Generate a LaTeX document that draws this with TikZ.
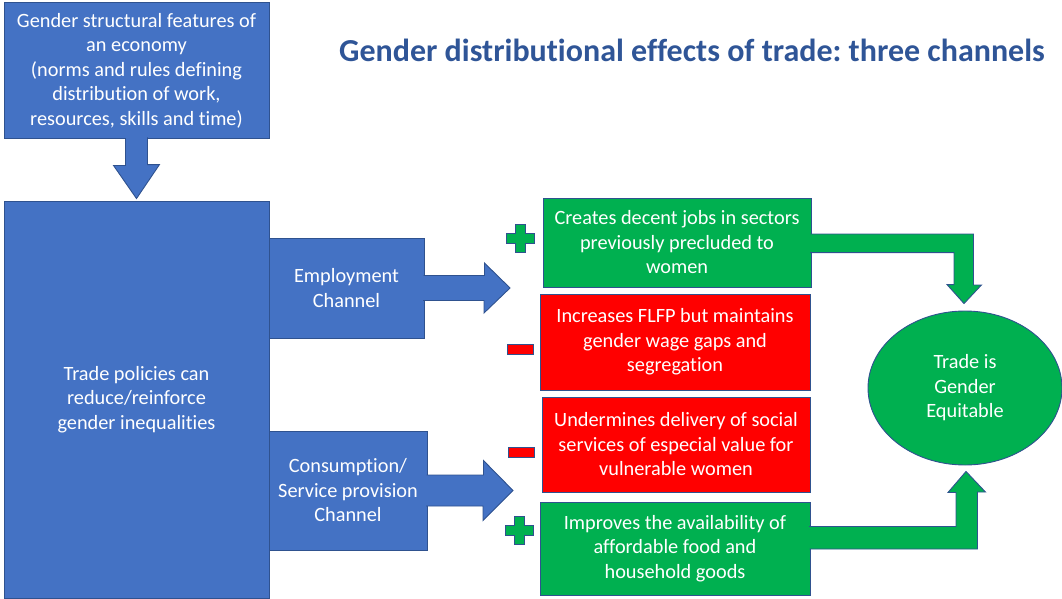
\documentclass[tikz,border=0pt]{standalone}
\usepackage{fontspec}
\setmainfont{Carlito}[Ligatures=NoCommon]
\usetikzlibrary{positioning,calc,shapes.geometric}

\definecolor{boxblue}{HTML}{4472C4}
\definecolor{edgeblue}{HTML}{2F528F}
\definecolor{titleblue}{HTML}{2F5597}
\definecolor{goodgreen}{HTML}{00B050}
\definecolor{badred}{HTML}{FF0000}

\frenchspacing

\begin{document}
\begin{tikzpicture}[
		x=1pt,
		y=-1pt,
		line join=miter,
		outlined/.style={draw=edgeblue, line width=0.9pt},
		main node/.style={outlined, text=white, align=center, inner sep=0pt,
			font=\fontsize{20.3}{24.5}\selectfont}
		,
		blue node/.style={main node, rectangle, fill=boxblue},
		green node/.style={main node, rectangle, fill=goodgreen},
		red node/.style={main node, rectangle, fill=badred},
		blue arrow/.style={outlined, fill=boxblue},
		green arrow/.style={outlined, fill=goodgreen},
		plus sign/.pic={
			\draw[outlined, fill=goodgreen] (-14,-5) -- (-5,-5) -- (-5,-14) -- (5,-14)
				-- (5,-5) -- (14,-5) -- (14,5) -- (5,5) -- (5,14) -- (-5,14)
				-- (-5,5) -- (-14,5) -- cycle;
		},
		minus sign/.pic={
			\draw[outlined, fill=badred] (-13,-5) rectangle (13,5);
		}
		]
		\useasboundingbox (0,0) rectangle (1062,599);

		% title
		\node[text=titleblue, font=\fontsize{32}{36}\selectfont\bfseries] (title) at (692,50)
			{Gender distributional effects of trade: three channels};

		% left column
		\node[blue node, minimum width=265, minimum height=136] (feat) at (136.5,70.5)
			{Gender structural features of\\an economy\\(norms and rules defining\\distribution of work,\\resources, skills and time)};
		\node[blue node, minimum width=265, minimum height=397] (policy) at (136.5,399.5)
			{Trade policies can\\reduce/reinforce\\gender inequalities};

		\path[blue arrow] ($(feat.south)+(-11,-0.8)$) -- ++(0,27.3) -- ++(-12,0)
			-- ($(policy.north)+(0,-2)$) -- ++(23,-34) -- ++(-12,0) -- ++(0,-27.3);

		% the two channels
		\node[blue node, minimum width=155, minimum height=100] (emp) at (346.5,288)
			{Employment\\Channel};
		\node[blue node, minimum width=158, minimum height=119] (cons) at (348,490.5)
			{Consumption/\\Service provision\\Channel};
		\coordinate (empTip) at (510,288);
		\coordinate (consTip) at (513,490.5);

		\path[blue arrow] ($(emp.east)+(-0.8,-12.5)$) -- ++(60.8,0) -- ++(0,-12.5)
			-- (empTip) -- ++(-26,25) -- ++(0,-12.5) -- ++(-60.8,0);
		\path[blue arrow] ($(cons.east)+(-0.8,-15.5)$) -- ++(56.8,0) -- ++(0,-14.5)
			-- (consTip) -- ++(-30,30) -- ++(0,-14.5) -- ++(-56.8,0);

		% effects
		\node[green node, minimum width=268, minimum height=89] (g1) at (677,242.5)
			{Creates decent jobs in sectors\\previously precluded to\\women};
		\node[red node, minimum width=270, minimum height=96] (r1) at (675,342)
			{Increases FLFP but maintains\\gender wage gaps and\\segregation};
		\node[red node, minimum width=268, minimum height=95] (r2) at (676,444.5)
			{Undermines delivery of social\\services of especial value for\\vulnerable women};
		\node[green node, minimum width=270, minimum height=93] (g2) at (675,548.5)
			{Improves the availability of\\affordable food and\\household goods};

		\pic at (520,238) {plus sign};
		\pic at (520,349) {minus sign};
		\pic at (521,452) {minus sign};
		\pic at (519,530) {plus sign};

		% outcome
		\node[main node, ellipse, fill=goodgreen, minimum width=194, minimum height=154] (fair) at (965,388)
			{Trade is\\Gender\\Equitable};

		\path[green arrow] ($(g1.east)+(-0.8,-8.5)$) -- ++(162.8,0) -- ++(0,51) -- ++(8,0)
			-- ($(fair.north)+(-1,-7)$) -- ++(-17,-19) -- ++(7,0) -- ++(0,-32) -- ++(-143.8,0);
		\path[green arrow] ($(g2.east)+(-0.8,0.5)$) -- ++(167.8,0) -- ++(0,-57) -- ++(8,0)
			-- ($(fair.south)+(1,6)$) -- ++(-18,21) -- ++(8,0) -- ++(0,34) -- ++(-146.8,0);
	\end{tikzpicture}
\end{document}
